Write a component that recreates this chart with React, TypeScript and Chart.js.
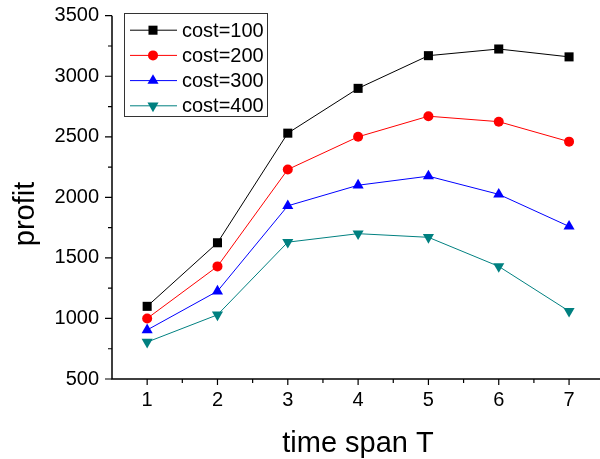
import React, { useEffect, useRef } from 'react';
import { Chart, registerables } from 'chart.js';

Chart.register(...registerables);

// Profit for each time span T, one series per cost level
const timeSpan = [1, 2, 3, 4, 5, 6, 7];
const cost100 = [1100, 1625, 2530, 2900, 3170, 3225, 3160];
const cost200 = [1000, 1430, 2230, 2500, 2670, 2625, 2460];
const cost300 = [905, 1225, 1930, 2100, 2175, 2025, 1760];
const cost400 = [805, 1030, 1630, 1700, 1670, 1430, 1060];
const seriesLabels = ['cost=100', 'cost=200', 'cost=300', 'cost=400'];
const seriesColors = ['#000000', '#ff0000', '#0000ff', '#008080'];
const seriesMarkers = ['rect', 'circle', 'triangle', 'triangleDown'];
const yMajorTicks = [500, 1000, 1500, 2000, 2500, 3000, 3500];
const yMinorTicks = [750, 1250, 1750, 2250, 2750, 3250];
const xMajorTicks = [1, 2, 3, 4, 5, 6, 7];
const xMinorTicks = [1.5, 2.5, 3.5, 4.5, 5.5, 6.5];
const xTitle = 'time span T';
const yTitle = 'profit';

const FONT = "'Liberation Sans', Arial, sans-serif";

function markerRadius(style: string) {
  if (style === 'rect') return 6.4;
  if (style === 'circle') return 5;
  return 6.4;
}

function drawMarker(ctx: CanvasRenderingContext2D, style: string, x: number, y: number, color: string) {
  const r = markerRadius(style);
  ctx.save();
  ctx.fillStyle = color;
  ctx.beginPath();
  if (style === 'rect') {
    const s = Math.SQRT1_2 * r;
    ctx.rect(x - s, y - s, 2 * s, 2 * s);
  } else if (style === 'circle') {
    ctx.arc(x, y, r, 0, Math.PI * 2);
  } else {
    const dir = style === 'triangle' ? 1 : -1;
    const hw = r * Math.cos(Math.PI / 6);
    ctx.moveTo(x, y - dir * r);
    ctx.lineTo(x + hw, y + dir * r / 2);
    ctx.lineTo(x - hw, y + dir * r / 2);
    ctx.closePath();
  }
  ctx.fill();
  ctx.restore();
}

// Axis lines, major/minor tick marks, axis titles and the boxed legend
const decorations = {
  id: 'decorations',
  afterDraw(chart: any) {
    const ctx: CanvasRenderingContext2D = chart.ctx;
    const { left, right, top, bottom } = chart.chartArea;
    const xs = chart.scales.x;
    const ys = chart.scales.y;
    ctx.save();
    ctx.strokeStyle = '#000';
    ctx.lineWidth = 1.5;
    ctx.beginPath();
    ctx.moveTo(left, top);
    ctx.lineTo(left, bottom);
    ctx.lineTo(right, bottom);
    ctx.stroke();

    ctx.lineWidth = 1.2;
    ctx.beginPath();
    yMajorTicks.forEach((v) => {
      const p = ys.getPixelForValue(v);
      ctx.moveTo(left, p);
      ctx.lineTo(left - 7, p);
    });
    yMinorTicks.forEach((v) => {
      const p = ys.getPixelForValue(v);
      ctx.moveTo(left, p);
      ctx.lineTo(left - 4, p);
    });
    xMajorTicks.forEach((v) => {
      const p = xs.getPixelForValue(v);
      ctx.moveTo(p, bottom);
      ctx.lineTo(p, bottom + 6);
    });
    xMinorTicks.forEach((v) => {
      const p = xs.getPixelForValue(v);
      ctx.moveTo(p, bottom);
      ctx.lineTo(p, bottom + 4);
    });
    ctx.stroke();

    // axis titles
    ctx.fillStyle = '#000';
    ctx.font = `29px ${FONT}`;
    ctx.textAlign = 'center';
    ctx.textBaseline = 'alphabetic';
    ctx.fillText(xTitle, 358, 452);
    ctx.save();
    ctx.translate(34, 214);
    ctx.rotate(-Math.PI / 2);
    ctx.fillText(yTitle, 0, 0);
    ctx.restore();

    // legend
    const lx = left + 12;
    const ly = top - 2.5;
    ctx.strokeStyle = '#333';
    ctx.lineWidth = 1;
    ctx.strokeRect(Math.round(lx) + 0.5, Math.round(ly) + 0.5, 143, 103);
    ctx.font = `20px ${FONT}`;
    ctx.textAlign = 'left';
    ctx.textBaseline = 'middle';
    seriesLabels.forEach((label, i) => {
      const rowY = ly + 17 + i * 25.2;
      ctx.strokeStyle = seriesColors[i];
      ctx.lineWidth = 1;
      ctx.beginPath();
      ctx.moveTo(lx + 6, rowY);
      ctx.lineTo(lx + 53, rowY);
      ctx.stroke();
      drawMarker(ctx, seriesMarkers[i], lx + 29, rowY, seriesColors[i]);
      ctx.fillStyle = '#000';
      ctx.fillText(label, lx + 58, rowY + 1);
    });
    ctx.restore();
  },
};

function noScalePadding(scale: any) {
  scale.paddingTop = 0;
  scale.paddingBottom = 0;
  scale.paddingLeft = 0;
  scale.paddingRight = 0;
}

export default function App() {
  const canvasRef = useRef<HTMLCanvasElement | null>(null);

  useEffect(() => {
    const canvas = canvasRef.current;
    if (!canvas) return;
    const seriesValues = [cost100, cost200, cost300, cost400];
    const chart = new Chart(canvas, {
      type: 'line',
      data: {
        datasets: seriesValues.map((vals, i) => ({
          label: seriesLabels[i],
          data: timeSpan.map((t, j) => ({ x: t, y: vals[j] })),
          borderColor: seriesColors[i],
          backgroundColor: seriesColors[i],
          borderWidth: 1,
          pointStyle: seriesMarkers[i] === 'triangleDown' ? 'triangle' : seriesMarkers[i],
          pointRotation: seriesMarkers[i] === 'triangleDown' ? 180 : 0,
          pointRadius: markerRadius(seriesMarkers[i]),
          pointBorderWidth: 0,
          pointHoverRadius: markerRadius(seriesMarkers[i]),
          tension: 0,
          clip: false,
        })) as any,
      },
      options: {
        responsive: false,
        animation: false,
        events: [],
        layout: { autoPadding: false, padding: { top: 15.7, right: 0, left: 0, bottom: 0 } },
        plugins: { legend: { display: false }, tooltip: { enabled: false } },
        scales: {
          x: {
            type: 'linear',
            min: 0.5,
            max: 7.44,
            grid: { display: false, drawTicks: false },
            border: { display: false },
            afterBuildTicks: (scale: any) => {
              scale.ticks = xMajorTicks.map((v) => ({ value: v }));
            },
            afterFit: (scale: any) => {
              scale.height = 80;
              noScalePadding(scale);
            },
            ticks: {
              padding: 9,
              color: '#000',
              font: { family: FONT, size: 20 },
              maxRotation: 0,
              autoSkip: false,
              callback: (v: any) => String(v),
            },
          },
          y: {
            type: 'linear',
            min: 500,
            max: 3500,
            grid: { display: false, drawTicks: false },
            border: { display: false },
            afterBuildTicks: (scale: any) => {
              scale.ticks = yMajorTicks.map((v) => ({ value: v }));
            },
            afterFit: (scale: any) => {
              scale.width = 112;
              noScalePadding(scale);
            },
            ticks: {
              padding: 13,
              color: '#000',
              font: { family: FONT, size: 20 },
              autoSkip: false,
              callback: (v: any) => String(v),
            },
          },
        },
      },
      plugins: [decorations],
    });
    return () => chart.destroy();
  }, []);

  return (
    <div style={{ position: 'absolute', left: 0, top: 0, width: 600, height: 459, background: '#fff' }}>
      <canvas ref={canvasRef} width={600} height={459} />
    </div>
  );
}
